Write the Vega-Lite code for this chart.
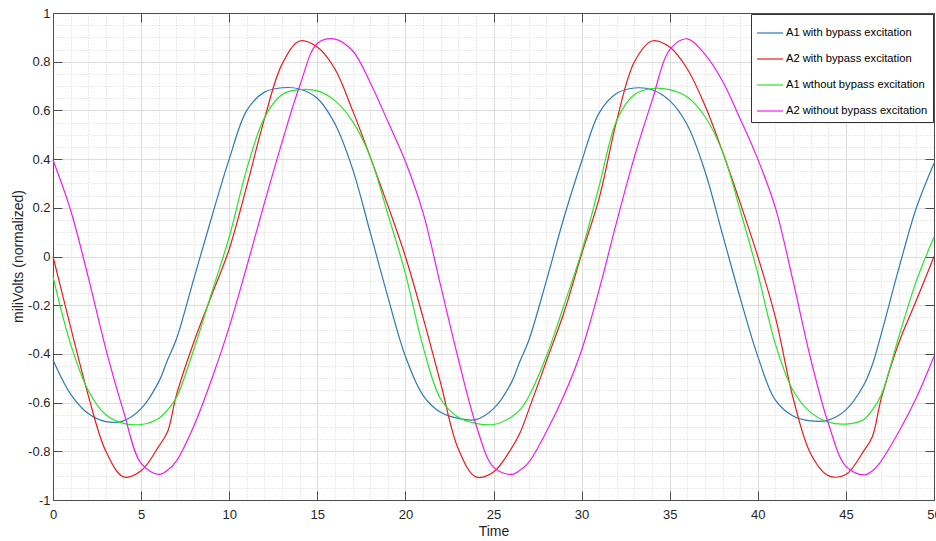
{
  "$schema": "https://vega.github.io/schema/vega-lite/v6.json",
  "width": 881,
  "height": 487,
  "autosize": {"type": "none"},
  "padding": {"left": 53, "top": 13, "right": 2, "bottom": 41},
  "background": "white",
  "config": {
    "view": {"stroke": null},
    "font": "Liberation Sans",
    "legend": {
      "orient": "top-right",
      "offset": 1,
      "symbolType": "stroke",
      "symbolSize": 676,
      "symbolStrokeWidth": 1.2,
      "labelFont": "Liberation Sans",
      "labelFontSize": 11.2,
      "labelColor": "#000000",
      "strokeColor": "#333333",
      "fillColor": "white",
      "padding": 5,
      "rowPadding": 6,
      "labelOffset": 2,
      "labelLimit": 300
    }
  },
  "data": {
    "values": [
      {"t": 0, "A1w": -0.425, "A2w": 0.0, "A1wo": -0.083, "A2wo": 0.396},
      {"t": 1, "A1w": -0.565, "A2w": -0.29, "A1wo": -0.36, "A2wo": 0.19},
      {"t": 2, "A1w": -0.645, "A2w": -0.57, "A1wo": -0.55, "A2wo": -0.085},
      {"t": 3, "A1w": -0.678, "A2w": -0.8, "A1wo": -0.65, "A2wo": -0.38},
      {"t": 4, "A1w": -0.675, "A2w": -0.905, "A1wo": -0.685, "A2wo": -0.635},
      {"t": 5, "A1w": -0.625, "A2w": -0.88, "A1wo": -0.69, "A2wo": -0.85},
      {"t": 6, "A1w": -0.515, "A2w": -0.78, "A1wo": -0.665, "A2wo": -0.895},
      {"t": 6.5, "A1w": -0.425, "A2w": -0.72, "A1wo": -0.63, "A2wo": -0.878},
      {"t": 7, "A1w": -0.34, "A2w": -0.57, "A1wo": -0.58, "A2wo": -0.84},
      {"t": 8, "A1w": -0.09, "A2w": -0.35, "A1wo": -0.38, "A2wo": -0.695},
      {"t": 9, "A1w": 0.16, "A2w": -0.16, "A1wo": -0.15, "A2wo": -0.505},
      {"t": 10, "A1w": 0.4, "A2w": 0.03, "A1wo": 0.08, "A2wo": -0.29},
      {"t": 11, "A1w": 0.6, "A2w": 0.29, "A1wo": 0.36, "A2wo": -0.04},
      {"t": 12, "A1w": 0.675, "A2w": 0.565, "A1wo": 0.57, "A2wo": 0.22},
      {"t": 13, "A1w": 0.693, "A2w": 0.79, "A1wo": 0.665, "A2wo": 0.47},
      {"t": 14, "A1w": 0.688, "A2w": 0.885, "A1wo": 0.685, "A2wo": 0.7},
      {"t": 15, "A1w": 0.65, "A2w": 0.86, "A1wo": 0.68, "A2wo": 0.875},
      {"t": 16, "A1w": 0.545, "A2w": 0.77, "A1wo": 0.64, "A2wo": 0.893},
      {"t": 17, "A1w": 0.36, "A2w": 0.6, "A1wo": 0.555, "A2wo": 0.845},
      {"t": 18, "A1w": 0.1, "A2w": 0.41, "A1wo": 0.41, "A2wo": 0.715},
      {"t": 19, "A1w": -0.165, "A2w": 0.21, "A1wo": 0.175, "A2wo": 0.555},
      {"t": 20, "A1w": -0.41, "A2w": 0.0, "A1wo": -0.07, "A2wo": 0.39},
      {"t": 21, "A1w": -0.57, "A2w": -0.25, "A1wo": -0.37, "A2wo": 0.18},
      {"t": 22, "A1w": -0.64, "A2w": -0.52, "A1wo": -0.585, "A2wo": -0.12},
      {"t": 23, "A1w": -0.665, "A2w": -0.79, "A1wo": -0.66, "A2wo": -0.42},
      {"t": 24, "A1w": -0.67, "A2w": -0.905, "A1wo": -0.685, "A2wo": -0.69},
      {"t": 25, "A1w": -0.625, "A2w": -0.885, "A1wo": -0.69, "A2wo": -0.865},
      {"t": 26, "A1w": -0.52, "A2w": -0.79, "A1wo": -0.66, "A2wo": -0.895},
      {"t": 26.5, "A1w": -0.43, "A2w": -0.725, "A1wo": -0.63, "A2wo": -0.878},
      {"t": 27, "A1w": -0.345, "A2w": -0.63, "A1wo": -0.575, "A2wo": -0.845},
      {"t": 28, "A1w": -0.1, "A2w": -0.43, "A1wo": -0.41, "A2wo": -0.72},
      {"t": 29, "A1w": 0.16, "A2w": -0.23, "A1wo": -0.2, "A2wo": -0.57},
      {"t": 30, "A1w": 0.39, "A2w": 0.01, "A1wo": 0.02, "A2wo": -0.385},
      {"t": 31, "A1w": 0.59, "A2w": 0.24, "A1wo": 0.29, "A2wo": -0.135},
      {"t": 32, "A1w": 0.67, "A2w": 0.56, "A1wo": 0.56, "A2wo": 0.145},
      {"t": 33, "A1w": 0.692, "A2w": 0.8, "A1wo": 0.665, "A2wo": 0.41},
      {"t": 34, "A1w": 0.685, "A2w": 0.885, "A1wo": 0.69, "A2wo": 0.64},
      {"t": 35, "A1w": 0.64, "A2w": 0.86, "A1wo": 0.685, "A2wo": 0.85},
      {"t": 36, "A1w": 0.54, "A2w": 0.77, "A1wo": 0.655, "A2wo": 0.894},
      {"t": 37, "A1w": 0.35, "A2w": 0.62, "A1wo": 0.575, "A2wo": 0.83},
      {"t": 38, "A1w": 0.09, "A2w": 0.43, "A1wo": 0.43, "A2wo": 0.72},
      {"t": 39, "A1w": -0.17, "A2w": 0.22, "A1wo": 0.19, "A2wo": 0.565},
      {"t": 40, "A1w": -0.41, "A2w": 0.0, "A1wo": -0.07, "A2wo": 0.4},
      {"t": 41, "A1w": -0.59, "A2w": -0.25, "A1wo": -0.36, "A2wo": 0.2},
      {"t": 42, "A1w": -0.655, "A2w": -0.58, "A1wo": -0.55, "A2wo": -0.1},
      {"t": 43, "A1w": -0.675, "A2w": -0.81, "A1wo": -0.64, "A2wo": -0.42},
      {"t": 44, "A1w": -0.672, "A2w": -0.9, "A1wo": -0.68, "A2wo": -0.685},
      {"t": 45, "A1w": -0.63, "A2w": -0.895, "A1wo": -0.688, "A2wo": -0.862},
      {"t": 46, "A1w": -0.53, "A2w": -0.8, "A1wo": -0.67, "A2wo": -0.897},
      {"t": 46.5, "A1w": -0.445, "A2w": -0.74, "A1wo": -0.63, "A2wo": -0.88},
      {"t": 47, "A1w": -0.32, "A2w": -0.585, "A1wo": -0.57, "A2wo": -0.84},
      {"t": 48, "A1w": -0.05, "A2w": -0.355, "A1wo": -0.33, "A2wo": -0.72},
      {"t": 49, "A1w": 0.2, "A2w": -0.18, "A1wo": -0.1, "A2wo": -0.58},
      {"t": 50, "A1w": 0.383, "A2w": 0.0, "A1wo": 0.08, "A2wo": -0.41}
    ]
  },
  "transform": [
    {"fold": ["A1w", "A2w", "A1wo", "A2wo"], "as": ["s", "v"]}
  ],
  "layer": [
    {
      "mark": {"type": "line", "opacity": 0},
      "encoding": {
        "x": {
          "field": "t", "type": "quantitative",
          "scale": {"domain": [0, 50], "nice": false, "zero": false},
          "axis": {
            "orient": "bottom", "grid": true, "labels": false, "ticks": false, "domain": false, "title": null,
            "values": [0,1,2,3,4,5,6,7,8,9,10,11,12,13,14,15,16,17,18,19,20,21,22,23,24,25,26,27,28,29,30,31,32,33,34,35,36,37,38,39,40,41,42,43,44,45,46,47,48,49,50],
            "gridColor": "#d4d4d4", "gridDash": [1, 2], "gridWidth": 1,
            "minExtent": 0, "maxExtent": 0
          }
        },
        "y": {
          "field": "v", "type": "quantitative",
          "scale": {"domain": [-1, 1], "nice": false, "zero": false},
          "axis": {
            "orient": "left", "grid": true, "labels": false, "ticks": false, "domain": false, "title": null,
            "values": [-1,-0.95,-0.9,-0.85,-0.8,-0.75,-0.7,-0.65,-0.6,-0.55,-0.5,-0.45,-0.4,-0.35,-0.3,-0.25,-0.2,-0.15,-0.1,-0.05,0,0.05,0.1,0.15,0.2,0.25,0.3,0.35,0.4,0.45,0.5,0.55,0.6,0.65,0.7,0.75,0.8,0.85,0.9,0.95,1],
            "gridColor": "#d4d4d4", "gridDash": [1, 2], "gridWidth": 1,
            "minExtent": 0, "maxExtent": 0
          }
        },
        "detail": {"field": "s"}
      }
    },
    {
      "mark": {"type": "line", "strokeWidth": 1.2, "interpolate": "catmull-rom"},
      "encoding": {
        "x": {
          "field": "t", "type": "quantitative",
          "axis": {
            "orient": "bottom", "grid": true, "gridColor": "#dddddd", "gridWidth": 1,
            "values": [0, 5, 10, 15, 20, 25, 30, 35, 40, 45, 50],
            "tickSize": -9, "tickColor": "#4d4d4d", "tickWidth": 1,
            "domainColor": "#4d4d4d", "domainWidth": 1,
            "labelFont": "Liberation Sans", "labelFontSize": 13, "labelColor": "#262626", "labelPadding": 17,
            "labelFlush": false, "labelOverlap": false,
            "title": "Time", "titleFont": "Liberation Sans", "titleFontSize": 14, "titleFontWeight": "normal", "titleColor": "#262626",
            "titleY": 24
          }
        },
        "y": {
          "field": "v", "type": "quantitative",
          "axis": {
            "orient": "left", "grid": true, "gridColor": "#dddddd", "gridWidth": 1,
            "values": [-1, -0.8, -0.6, -0.4, -0.2, 0, 0.2, 0.4, 0.6, 0.8, 1],
            "labelExpr": "toString(datum.value)",
            "tickSize": -9, "tickColor": "#4d4d4d", "tickWidth": 1,
            "domainColor": "#4d4d4d", "domainWidth": 1,
            "labelFont": "Liberation Sans", "labelFontSize": 13, "labelColor": "#262626", "labelPadding": 12,
            "labelFlush": false, "labelOverlap": false,
            "title": "miliVolts (normalized)", "titleFont": "Liberation Sans", "titleFontSize": 14, "titleFontWeight": "normal", "titleColor": "#262626",
            "titleX": -35, "titleY": 243, "titleBaseline": "middle"
          }
        },
        "color": {
          "field": "s", "type": "nominal",
          "scale": {"domain": ["A1w", "A2w", "A1wo", "A2wo"], "range": ["#2a7ab8", "#f01818", "#28e628", "#f21cf2"]},
          "legend": {
            "title": null,
            "labelExpr": "{'A1w': 'A1 with bypass excitation', 'A2w': 'A2 with bypass excitation', 'A1wo': 'A1 wthout bypass excitation', 'A2wo': 'A2 without bypass excitation'}[datum.label]"
          }
        }
      }
    },
    {
      "mark": {"type": "line", "opacity": 0},
      "encoding": {
        "x": {
          "field": "t", "type": "quantitative",
          "axis": {
            "orient": "top", "grid": false, "labels": false, "title": null,
            "values": [0, 5, 10, 15, 20, 25, 30, 35, 40, 45, 50],
            "tickSize": -9, "tickColor": "#4d4d4d", "domainColor": "#4d4d4d"
          }
        },
        "y": {
          "field": "v", "type": "quantitative",
          "axis": {
            "orient": "right", "grid": false, "labels": false, "title": null,
            "values": [-1, -0.8, -0.6, -0.4, -0.2, 0, 0.2, 0.4, 0.6, 0.8, 1],
            "tickSize": -9, "tickColor": "#4d4d4d", "domainColor": "#4d4d4d"
          }
        },
        "detail": {"field": "s"}
      }
    }
  ],
  "resolve": {"axis": {"x": "independent", "y": "independent"}}
}
